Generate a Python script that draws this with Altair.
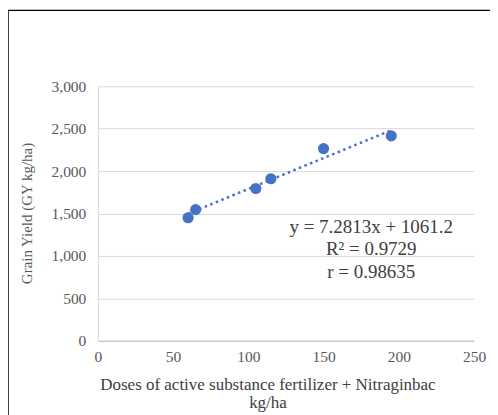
import altair as alt
import pandas as pd

# Data
doses = [60, 65, 105, 115, 150, 195]
yields = [1450, 1545, 1795, 1910, 2265, 2415]
slope = 7.2813
intercept = 1061.2
eq_lines = ["y = 7.2813x  + 1061.2", "R\u00b2 = 0.9729", "r = 0.98635"]
x_ticks = [0, 50, 100, 150, 200, 250]
y_ticks = [0, 500, 1000, 1500, 2000, 2500, 3000]
x_title = ["Doses of active substance fertilizer + Nitraginbac", "kg/ha"]
y_title = "Grain Yield (GY kg/ha)"

FONT = "Liberation Serif"
BLUE = "#4472C4"

pts = pd.DataFrame({"dose": doses, "yield": yields})
trend_x = [min(doses), max(doses)]
trend = pd.DataFrame({"dose": trend_x, "yield": [slope * d + intercept for d in trend_x]})
dummy = pd.DataFrame({"a": [0]})

xenc = alt.X(
    "dose:Q",
    scale=alt.Scale(domain=[0, 250], nice=False),
    axis=alt.Axis(
        values=x_ticks, grid=False, ticks=False, domainColor="#BFBFBF",
        labelFont=FONT, labelFontSize=15.5, labelColor="#595959", labelPadding=9,
        labelFlush=False,
        title=x_title, titleFont=FONT, titleFontSize=17, titleFontWeight="normal",
        titleColor="#404040", titleX=170, titleY=49, titleAlign="center",
        titleBaseline="alphabetic", titleLineHeight=18,
    ),
)
yenc = alt.Y(
    "yield:Q",
    scale=alt.Scale(domain=[0, 3000], nice=False),
    axis=alt.Axis(
        values=y_ticks, format=",d", grid=True, gridColor="#D9D9D9", ticks=False,
        domainColor="#D9D9D9", labelFont=FONT, labelFontSize=15.5, labelColor="#595959",
        labelPadding=12,
        title=y_title, titleFont=FONT, titleFontSize=15, titleFontWeight="normal",
        titleColor="#595959", titleAngle=270, titleX=-71, titleY=127,
        titleAlign="center", titleBaseline="middle",
    ),
)

points = alt.Chart(pts).mark_circle(size=125, color=BLUE, opacity=1).encode(x=xenc, y=yenc)
line = alt.Chart(trend).mark_line(color=BLUE, strokeWidth=2.5, strokeDash=[2.5, 3.5]).encode(
    x="dose:Q", y="yield:Q"
)
eq = alt.Chart(dummy).mark_text(
    text=eq_lines, font=FONT, fontSize=19, color="#404040", align="center",
    baseline="alphabetic", lineHeight=22.5,
).encode(x=alt.value(274), y=alt.value(147))

frame_v = alt.Chart(dummy).mark_rule(color="black", strokeWidth=1.5).encode(
    x=alt.value(-90), y=alt.value(-76), y2=alt.value(330)
)
frame_h = alt.Chart(dummy).mark_rule(color="black", strokeWidth=1.2).encode(
    x=alt.value(-90), x2=alt.value(393), y=alt.value(-76)
)

chart = (
    alt.layer(line, points, eq, frame_v, frame_h)
    .properties(
        width=377, height=255,
        autosize=alt.AutoSizeParams(type="none"),
        padding={"left": 90, "top": 78, "right": 16, "bottom": 74},
    )
    .configure_view(stroke=None)
)

chart.save("out.html", embed_options={"renderer": "svg", "actions": False})
